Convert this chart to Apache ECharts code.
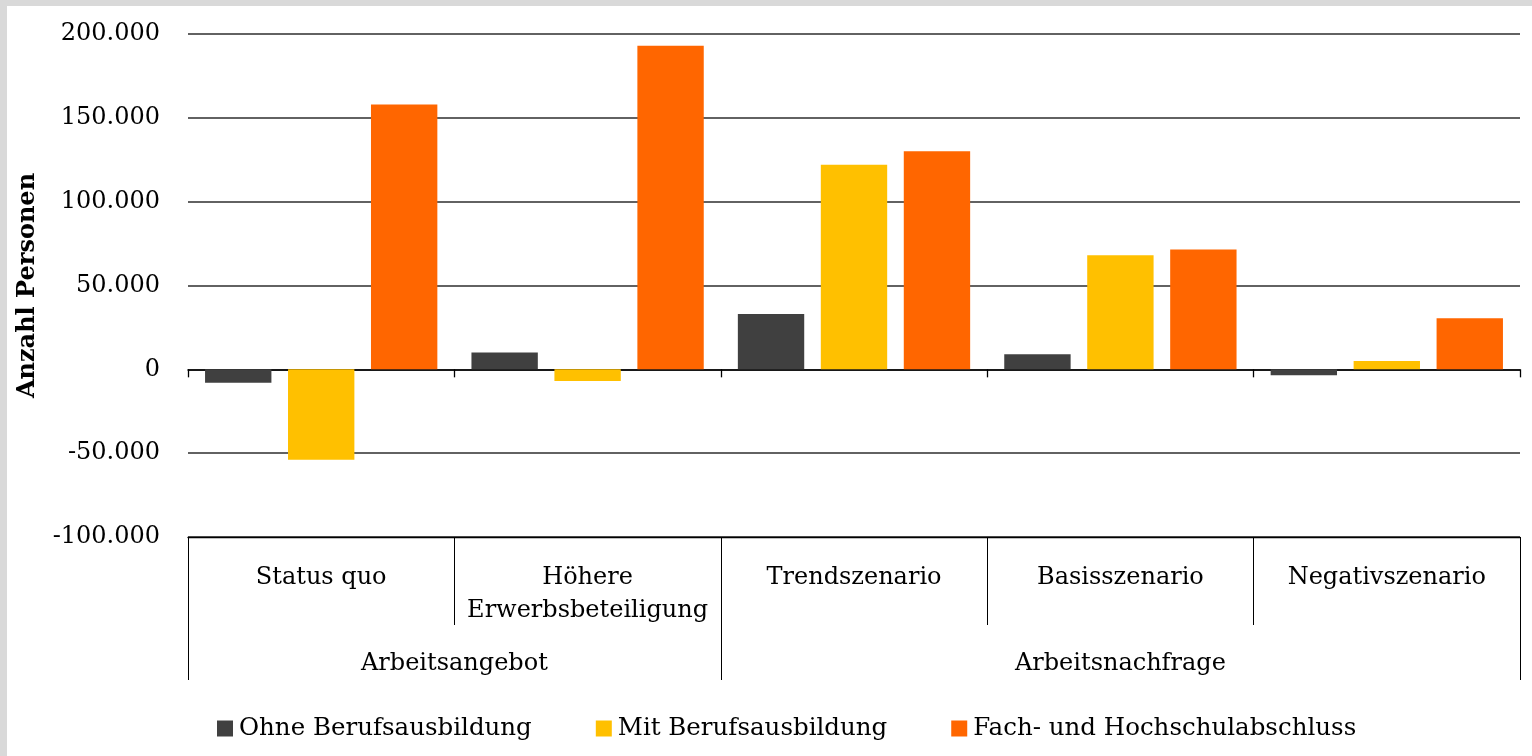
<!DOCTYPE html>
<html>
<head>
<meta charset="utf-8">
<script src="https://cdn.jsdelivr.net/npm/echarts@6/dist/echarts.min.js"></script>
<style>
  html, body { margin: 0; padding: 0; background: #d9d9d9; }
  #main { position: absolute; left: 7px; top: 6px; width: 1525px; height: 750px; background: #fff; }
</style>
</head>
<body>
<div id="main"></div>
<script>
// categories and groups
var categories = ['Status quo', 'Höhere\nErwerbsbeteiligung', 'Trendszenario', 'Basisszenario', 'Negativszenario'];
var groups = ['Arbeitsangebot', 'Arbeitsnachfrage'];
var groupSpans = [2, 3];

// series
var seriesNames = ['Ohne Berufsausbildung', 'Mit Berufsausbildung', 'Fach- und Hochschulabschluss'];
var ohne = [-8000, 10000, 33000, 9000, -3500];
var mit = [-54000, -7000, 122000, 68000, 5000];
var fach = [158000, 193000, 130000, 71500, 30500];
var colors = ['#404040', '#ffc000', '#ff6600'];

// value axis
var yMin = -100000, yMax = 200000, yStep = 50000;

var font = 'DejaVu Serif';

// group row: half-category slots so labels can sit on boundaries or centres
var slots = [];
for (var i = 0; i <= categories.length * 2; i++) slots.push('');
var groupTicks = [0];
var groupLabels = [];
var start = 0;
groups.forEach(function (g, k) {
  slots[start * 2 + groupSpans[k]] = g;
  groupLabels.push(start * 2 + groupSpans[k]);
  start += groupSpans[k];
  groupTicks.push(start * 2);
});

function fmt(v) {
  var s = String(Math.abs(v)).replace(/\B(?=(\d{3})+(?!\d))/g, '.');
  return (v < 0 ? '-' : '') + s;
}

var myChart = echarts.init(document.getElementById('main'));
var option = {
  animation: false,
  textStyle: { fontFamily: font },
  grid: { left: 181, right: 12, top: 28, bottom: 219 },
  legend: {
    left: 205,
    top: 705,
    itemWidth: 16,
    itemHeight: 16,
    itemGap: 64,
    icon: 'rect',
    textStyle: { fontFamily: font, fontSize: 24.5, color: '#000', padding: [0, 0, 0, 1] },
    data: seriesNames
  },
  xAxis: [
    {
      type: 'category',
      data: categories,
      axisLine: { onZero: true, lineStyle: { color: '#000', width: 1.5 } },
      axisTick: { show: true, length: 8, lineStyle: { color: '#000', width: 1.3 } },
      axisLabel: { show: false },
      splitLine: { show: false }
    },
    {
      type: 'category',
      data: categories,
      position: 'bottom',
      axisLine: { onZero: false, lineStyle: { color: '#000', width: 1.3 } },
      axisTick: { show: true, length: 88, lineStyle: { color: '#000', width: 1 } },
      axisLabel: { interval: 0, margin: 24, fontFamily: font, fontSize: 24, lineHeight: 33, color: '#000' },
      splitLine: { show: false }
    },
    {
      type: 'category',
      data: slots,
      boundaryGap: false,
      position: 'bottom',
      axisLine: { show: false, onZero: false },
      axisTick: {
        show: true,
        length: 143,
        interval: function (idx) { return groupTicks.indexOf(idx) >= 0; },
        lineStyle: { color: '#000', width: 1 }
      },
      axisLabel: {
        interval: function (idx) { return groupLabels.indexOf(idx) >= 0; },
        margin: 110,
        fontFamily: font,
        fontSize: 24,
        lineHeight: 33,
        color: '#000'
      },
      splitLine: { show: false }
    }
  ],
  yAxis: {
    type: 'value',
    min: yMin,
    max: yMax,
    interval: yStep,
    name: 'Anzahl Personen',
    nameLocation: 'middle',
    nameRotate: 90,
    nameGap: 148,
    nameTextStyle: { fontFamily: font, fontSize: 24, fontWeight: 'bold', color: '#000' },
    axisLine: { show: false },
    axisTick: { show: false },
    axisLabel: { formatter: fmt, margin: 28, fontFamily: font, fontSize: 24, color: '#000' },
    splitLine: { lineStyle: { color: '#2e2e2e', width: 1.6 } }
  },
  series: [
    { name: seriesNames[0], type: 'bar', data: ohne, itemStyle: { color: colors[0] }, barGap: '25%', barCategoryGap: '12.8%' },
    { name: seriesNames[1], type: 'bar', data: mit, itemStyle: { color: colors[1] }, barGap: '25%', barCategoryGap: '12.8%' },
    { name: seriesNames[2], type: 'bar', data: fach, itemStyle: { color: colors[2] }, barGap: '25%', barCategoryGap: '12.8%' }
  ]
};
myChart.setOption(option);
</script>
</body>
</html>
